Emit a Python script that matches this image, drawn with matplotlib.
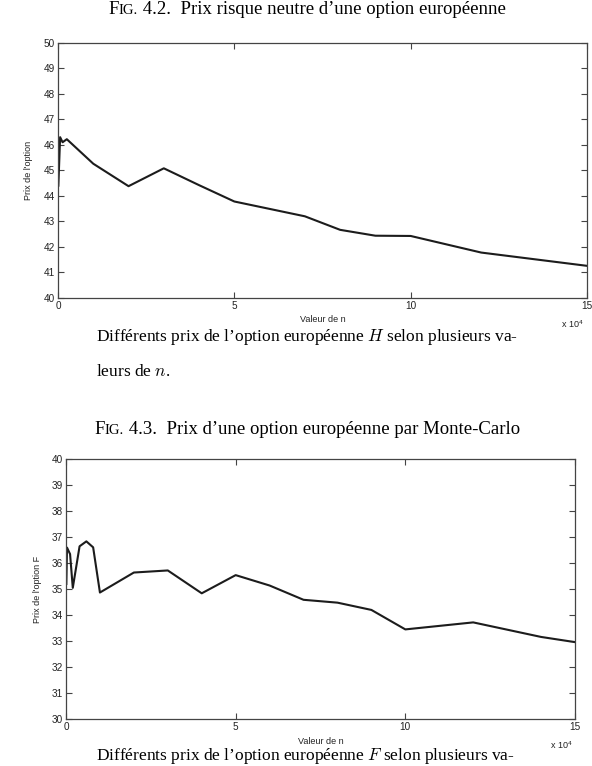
import matplotlib
matplotlib.use('Agg')
import matplotlib.pyplot as plt
from matplotlib.offsetbox import TextArea, HPacker, AnnotationBbox

n_h = [100, 600, 1300, 2500, 10000, 20000, 30000, 40000, 50000, 70000,
       80000, 90000, 100000, 120000, 150000]
prix_h = [44.4, 46.3, 46.1, 46.22, 45.26, 44.38, 45.08, 44.42, 43.78, 43.2,
          42.67, 42.44, 42.43, 41.78, 41.26]

n_f = [100, 300, 1200, 2000, 4000, 6000, 8000, 10000, 20000, 30000, 40000,
       50000, 60000, 70000, 80000, 90000, 100000, 120000, 140000, 150000]
prix_f = [35.2, 36.6, 36.35, 35.05, 36.65, 36.84, 36.61, 34.87, 35.64, 35.72,
          34.84, 35.54, 35.14, 34.59, 34.48, 34.2, 33.45, 33.72, 33.16, 32.96]

x_ticks = [0, 50000, 100000, 150000]

plt.rcParams['mathtext.fontset'] = 'cm'
serif = 'Liberation Serif'
sans = 'Liberation Sans'
W, H = 592, 766
fs_title = 13.5
fs_cap = 12.5

fig = plt.figure(figsize=(W / 100, H / 100), dpi=100)


def figtitle(y, num, rest):
    parts = [TextArea('F', textprops=dict(fontsize=fs_title, family=serif)),
             TextArea('IG.', textprops=dict(fontsize=fs_title * 0.78, family=serif)),
             TextArea(' ' + num + '  ' + rest,
                      textprops=dict(fontsize=fs_title, family=serif))]
    box = HPacker(children=parts, align='baseline', pad=0, sep=0)
    ab = AnnotationBbox(box, (307, H - y), xycoords='figure pixels',
                        box_alignment=(0.5, 0.5), frameon=False, pad=0)
    fig.add_artist(ab)


def draw(rect, n, prix, ylim, ylabel):
    ax = fig.add_axes(rect)
    ax.plot(n, prix, color='#1c1c1c', lw=1.5)
    ax.set_xlim(0, 150000)
    ax.set_ylim(*ylim)
    ax.set_yticks(range(ylim[0], ylim[1] + 1))
    ax.set_xticks(x_ticks)
    ax.set_xticklabels([f'{t / 1e4:g}' for t in x_ticks])
    ax.tick_params(direction='in', length=4, width=0.8, top=True, right=True,
                   labelsize=7.2, pad=2, color='#444444', labelcolor='#222222')
    for lab in ax.get_xticklabels() + ax.get_yticklabels():
        lab.set_family(sans)
    for s in ax.spines.values():
        s.set_color('#444444')
        s.set_linewidth(0.9)
    ax.set_ylabel(ylabel, fontsize=6.5, family=sans, color='#222222')
    ax.yaxis.set_label_coords(-0.047, 0.5)
    ax.set_xlabel('Valeur de n', fontsize=6.5, family=sans, color='#222222')
    ax.xaxis.set_label_coords(0.5, -0.068)
    ax.text(0.995, -0.078, r'x 10$^{\mathregular{4}}$', transform=ax.transAxes,
            ha='right', va='top', fontsize=6.5, family=sans, color='#222222')
    return ax


figtitle(10, '4.2.', "Prix risque neutre d’une option européenne")
draw([58 / W, 1 - 298 / H, 529 / W, 255.3 / H], n_h, prix_h, (40, 50),
     "Prix de l'option")
fig.text(96 / W, 1 - 337 / H,
         "Différents prix de l’option européenne $H$ selon plusieurs va-",
         fontsize=fs_cap, family=serif, va='center')
fig.text(96 / W, 1 - 372 / H, "leurs de $n$.", fontsize=fs_cap, family=serif,
         va='center')

figtitle(430, '4.3.', "Prix d’une option européenne par Monte-Carlo")
draw([66 / W, 1 - 719 / H, 509 / W, 259.7 / H], n_f, prix_f, (30, 40),
     "Prix de l'option F")
fig.text(96 / W, 1 - 756 / H,
         "Différents prix de l’option européenne $F$ selon plusieurs va-",
         fontsize=fs_cap, family=serif, va='center')

fig.savefig('out.png', dpi=100)
